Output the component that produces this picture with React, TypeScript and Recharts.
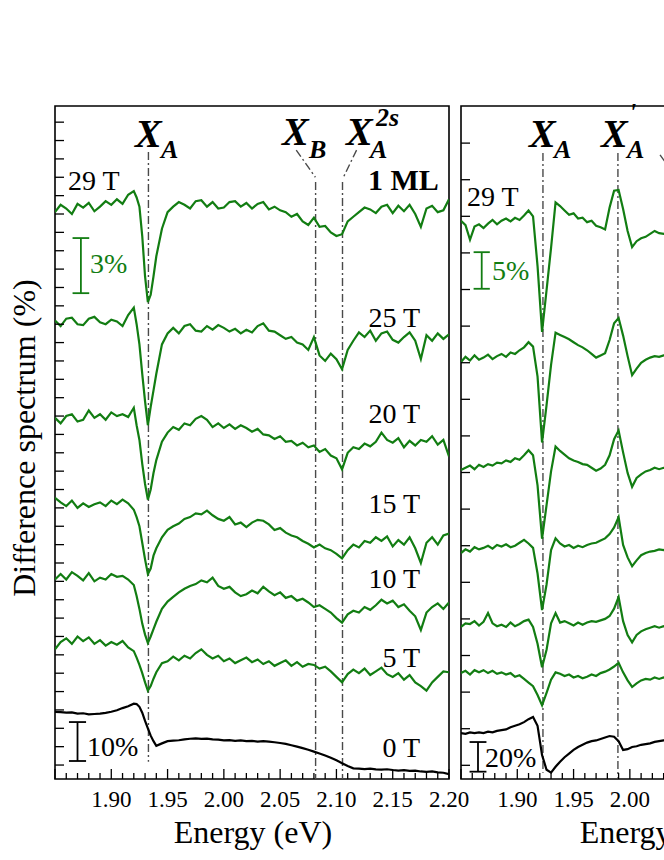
import React from 'react';
import { ComposedChart, Line, XAxis, YAxis, ReferenceLine, ReferenceArea } from 'recharts';

const GREEN = '#127d12';
const DASH = '#4a4a4a';
const SERIF = '"Liberation Serif", "Times New Roman", serif';

// photon energy grids (eV)
const energyLeft = [
  1.85, 1.855, 1.86, 1.865, 1.87, 1.875, 1.88, 1.885, 1.89, 1.895, 1.9, 1.905, 1.91, 1.915, 1.92,
  1.9225, 1.925, 1.9275, 1.93, 1.9325, 1.935, 1.9375, 1.94,
  1.945, 1.95, 1.955, 1.96, 1.965, 1.97, 1.975, 1.98, 1.985, 1.99, 1.995, 2.0, 2.005, 2.01, 2.015, 2.02,
  2.025, 2.03, 2.035, 2.04, 2.045, 2.05, 2.055, 2.06, 2.065, 2.07, 2.075, 2.08, 2.085, 2.09, 2.095, 2.1,
  2.105, 2.11, 2.115, 2.12, 2.125, 2.13, 2.135, 2.14, 2.145, 2.15, 2.155, 2.16, 2.165, 2.17, 2.175, 2.18, 2.185, 2.19, 2.195, 2.2,
];
const energyRight = [
  1.85, 1.854, 1.858, 1.862, 1.866, 1.87, 1.874, 1.878, 1.882, 1.886, 1.89, 1.894, 1.898, 1.902, 1.906, 1.91,
  1.914, 1.918, 1.922, 1.926, 1.93, 1.934, 1.938, 1.942, 1.946,
  1.95, 1.954, 1.958, 1.962, 1.966, 1.97, 1.974, 1.978, 1.982, 1.986, 1.99, 1.994, 1.998, 2.002,
  2.006, 2.01, 2.014, 2.018, 2.022, 2.026, 2.03, 2.034, 2.038, 2.042,
];

const fields = ['29 T', '25 T', '20 T', '15 T', '10 T', '5 T', '0 T'];

// 1 ML: difference spectra (%), relative to each trace's own level; 0 T trace already scaled
const ml29 = [
  -0.1, 0.3, 0.1, -0.2, 0.35, 0.15, 0.4, -0.05, 0.2, 0.5, 0.3, 0.6, 0.35, 0.85, 1.05,
  0.7, 0.2, -1.4, -3.6, -5.0, -4.6, -3.6, -2.5,
  -1.0, -0.1, 0.2, 0.45, 0.3, 0.1, 0.5, 0.55, 0.2, 0.45, 0.1, 0.15, 0.45, 0.5, 0.2, 0.4,
  0.1, 0.35, 0.45, 0.05, 0.2, 0.0, -0.1, -0.35, -0.2, -0.6, -0.8, -0.4, -0.9, -0.85, -1.2, -1.4,
  -1.3, -0.6, -0.35, -0.1, 0.15, 0.05, -0.15, 0.2, 0.3, -0.15, 0.25, -0.05, 0.3, -0.2, -0.9, 0.1, 0.25, -0.1, 0.0, 0.6,
];
const ml25 = [
  0.1, -0.2, 0.2, 0.25, -0.1, -0.15, 0.2, 0.3, 0.0, -0.1, 0.15, 0.05, -0.2, 0.4, 0.8,
  -0.1, -1.2, -2.8, -4.3, -5.6, -4.6, -3.7, -2.8,
  -1.2, -0.6, -0.3, -0.6, -0.2, -0.1, -0.45, -0.5, -0.2, -0.4, -0.15, -0.3, -0.5, -0.35, -0.6, -0.4,
  -0.55, -0.2, -0.05, -0.45, -0.5, -0.7, -0.9, -0.8, -1.1, -1.2, -1.5, -0.8, -1.8, -2.1, -1.7, -2.0,
  -2.55, -1.5, -1.0, -0.55, -0.8, -0.45, -1.0, -0.6, -0.5, -0.95, -1.1, -0.8, -0.55, -1.0, -2.0, -0.7, -1.0, -0.6, -0.9, -0.65,
];
const ml20 = [
  0.0, -0.3, 0.1, 0.2, -0.2, -0.1, 0.4, 0.0, 0.2, -0.1, 0.3, 0.1, 0.2, 0.05, 0.55,
  -0.4, -1.2, -2.5, -3.6, -4.45, -3.9, -3.0, -2.3,
  -1.3, -0.8, -0.5, -0.65, -0.3, -0.4, -0.05, 0.1, -0.1, -0.5, -0.3, -0.55, -0.35, -0.6, -0.4, -0.55,
  -0.75, -0.6, -0.9, -0.95, -1.15, -1.0, -1.3, -1.25, -1.5, -1.35, -1.6, -1.5, -1.85, -1.7, -2.05, -2.2,
  -2.8, -1.9, -1.6, -1.7, -1.4, -1.55, -1.3, -0.8, -1.2, -1.35, -1.1, -1.6, -1.25, -1.5, -1.2, -1.3, -1.0, -1.45, -1.2, -2.1,
];
const ml15 = [
  0.15, -0.1, -0.3, 0.0, -0.4, -0.15, -0.35, -0.2, -0.1, -0.3, 0.0, -0.2, 0.05, -0.15, -0.5,
  -0.9, -1.4, -2.3, -3.2, -4.0, -3.7, -3.0, -2.6,
  -2.0, -1.6, -1.4, -1.25, -1.0, -0.9, -0.7, -0.75, -0.55, -0.8, -1.0, -1.1, -0.9, -1.3, -1.2, -1.45,
  -1.2, -1.05, -1.1, -1.3, -1.6, -1.5, -1.75, -1.9, -2.0, -2.2, -2.35, -2.55, -2.4, -2.6, -2.7, -2.9,
  -3.15, -2.7, -2.4, -2.55, -2.2, -2.3, -2.0, -2.2, -1.95, -2.5, -2.15, -2.4, -2.0, -2.6, -3.4, -2.3, -2.0, -2.4, -1.9, -1.8,
];
const ml10 = [
  -0.1, 0.2, -0.1, 0.3, 0.1, -0.15, 0.25, -0.2, 0.0, -0.1, 0.2, 0.05, 0.1, -0.1, -0.4,
  -1.0, -1.7, -2.5, -3.1, -3.55, -3.2, -2.8, -2.4,
  -1.7, -1.3, -1.05, -0.8, -0.6, -0.45, -0.35, -0.15, -0.25, 0.0, -0.45, -0.6, -0.5, -0.8, -1.0, -0.9,
  -0.7, -0.85, -0.5, -0.75, -0.95, -0.8, -1.1, -1.0, -1.25, -1.15, -1.35, -1.6, -1.5, -1.7, -1.9, -2.2,
  -2.45, -2.0, -1.8, -1.9, -1.6, -1.75, -1.5, -1.2, -1.4, -1.25, -1.6, -1.45, -1.8, -2.1, -2.85, -1.9, -1.6, -1.4, -1.7, -1.35,
];
const ml5 = [
  -0.1, 0.3, 0.5, 0.2, 0.6, 0.35, 0.55, 0.2, 0.4, 0.1, 0.3, 0.15, 0.35, 0.0, -0.2,
  -0.55, -0.95, -1.4, -1.9, -2.35, -2.1, -1.7, -1.35,
  -0.85, -0.75, -0.5, -0.7, -0.45, -0.6, -0.3, -0.1, -0.4, -0.6, -0.45, -0.75, -0.6, -0.85, -0.7, -0.55,
  -0.8, -0.65, -0.9, -0.75, -1.0, -0.85, -0.7, -1.0, -0.8, -1.05, -0.9, -0.95, -1.15, -1.05, -1.3, -1.6,
  -1.9, -1.45, -1.2, -1.4, -1.15, -1.5, -1.3, -1.1, -1.45, -1.6, -1.4, -1.75, -1.5, -1.9, -2.1, -2.35, -1.9, -1.6, -1.3, -1.35,
];
const ml0 = [
  0.0, -0.02, -0.05, -0.03, -0.1, -0.08, -0.14, -0.12, -0.1, -0.06, 0.0, 0.08, 0.2, 0.3, 0.44,
  0.42, 0.27, -0.05, -0.5, -0.9, -1.3, -1.6, -1.85,
  -1.72, -1.6, -1.57, -1.55, -1.5, -1.47, -1.45, -1.48, -1.46, -1.5, -1.52, -1.56, -1.54, -1.58, -1.56, -1.6,
  -1.58, -1.62, -1.6, -1.63, -1.66, -1.7, -1.75, -1.82, -1.9, -1.98, -2.07, -2.17, -2.27, -2.38, -2.5, -2.64,
  -2.8, -2.95, -3.08, -3.1, -3.12, -3.1, -3.14, -3.15, -3.13, -3.17, -3.2, -3.18, -3.22, -3.2, -3.25, -3.27, -3.25, -3.3, -3.32, -3.4,
];
const offsetsLeft = [30.2, 24.1, 18.9, 14.4, 10.2, 6.4, 2.9];

// second sample
const bl29 = [
  0.2, -0.4, -2.4, -0.6, -0.3, -0.8, -0.2, 0.3, -0.3, 0.2, 0.5, 0.1, 0.6, 0.3, 0.9, 1.6,
  0.8, -6.0, -15.0, -9.3, -3.5, 2.7, 2.2, 1.6, 1.0,
  1.2, 0.5, 0.6, 0.0, 0.2, -0.5, -0.7, -1.0, 2.0, 4.3, 4.4, 1.8, -1.2, -3.4,
  -2.6, -2.2, -2.0, -1.6, -1.2, -1.5, -1.6, -1.3, -1.5, -1.4,
];
const bl25 = [
  -0.5, 0.2, -0.3, 0.4, -0.2, 0.1, 0.5, -0.1, 0.3, 0.6, 0.2, 0.8, 0.6, 1.1, 1.5, 2.2,
  1.6, -2.5, -11.5, -6.4, -0.9, 3.5, 3.2, 2.9, 2.6,
  2.2, 1.8, 1.5, 1.1, 0.6, 0.1, 0.4, 0.7, 2.5, 4.8, 5.5, 3.1, 0.3, -2.3,
  -1.4, -0.6, -0.2, 0.1, 0.3, 0.2, 0.4, 0.3, 0.5, 0.4,
];
const bl20 = [
  -0.4, -0.1, 0.2, -0.3, 0.3, 0.0, 0.4, 0.2, 0.6, 0.5, 0.9, 0.7, 1.2, 1.0, 1.6, 2.3,
  1.6, -2.5, -9.8, -5.2, -0.6, 2.8, 2.2, 1.7, 1.2,
  0.9, 0.7, 0.4, 0.3, -0.1, -0.5, -0.2, 0.3, 1.6, 3.8, 5.0, 2.0, -0.8, -2.7,
  -1.5, -1.0, -0.6, -0.4, -0.1, -0.3, -0.1, -0.2, 0.0, -0.2,
];
const bl15 = [
  -0.7, -0.2, -0.5, 0.1, -0.2, 0.0, 0.3, -0.1, 0.4, 0.2, 0.5, 0.1, 0.3, 0.7, 1.1, 0.6,
  0.0, -3.5, -8.5, -5.0, -0.3, 1.3, 0.6, 0.2, 0.4,
  0.0, 0.3, 0.1, 0.4, 0.6, 0.7, 1.0, 1.3, 1.9, 2.8, 4.2, 0.4, -1.3, -2.5,
  -1.7, -1.0, -0.7, -0.5, -0.4, -0.2, -0.3, -0.1, -0.3, -0.2,
];
const bl10 = [
  -0.3, 0.2, 0.1, 0.5, -0.1, 0.4, 1.6, 0.2, -0.2, 0.0, -0.3, 0.3, -0.2, 0.1, 0.5, 0.7,
  -0.3, -2.6, -5.8, -3.4, 0.2, 1.6, 0.3, 0.5, 0.2,
  -0.1, 0.3, 0.0, 0.3, 0.5, 0.4, 0.6, 0.8, 1.2, 2.2, 3.8, 0.5, -1.4, -2.4,
  -1.4, -0.9, -0.6, -0.4, -0.2, -0.4, -0.2, -0.3, -0.1, -0.3,
];
const bl5 = [
  0.0, 0.3, -0.2, 0.4, 0.1, 0.4, 0.0, 0.3, -0.1, 0.1, -0.2, 0.0, -0.5, -0.3, -0.8, -1.3,
  -1.8, -3.0, -4.4, -2.7, -0.9, 0.1, -0.1, -0.4, -0.2,
  -0.6, -0.4, -0.7, -0.5, -0.2, -0.4, 0.0, 0.2, 0.5, 0.9, 1.4, 0.1, -1.0, -1.9,
  -1.4, -1.0, -0.8, -0.9, -0.6, -0.8, -0.6, -0.7, -0.5, -0.7,
];
const bl0 = [
  0.0, -0.1, 0.1, 0.0, 0.1, 0.0, 0.2, 0.1, 0.3, 0.4, 0.5, 0.8, 1.0, 1.2, 1.5, 1.9,
  2.2, 1.0, -3.0, -5.0, -5.4, -4.6, -3.9, -3.3, -2.8,
  -2.3, -1.9, -1.6, -1.3, -1.1, -1.0, -0.8, -0.6, -0.4, -0.5, -1.1, -2.3, -2.2, -1.9,
  -1.8, -1.6, -1.5, -1.4, -1.2, -1.1, -1.0, -0.9, -0.8, -0.7,
];
const offsetsRight = [74.2, 55.6, 40.75, 29.7, 19.2, 12.6, 4.4];

const energyTicks = [
  1.85, 1.86, 1.87, 1.88, 1.89, 1.9, 1.91, 1.92, 1.93, 1.94, 1.95, 1.96, 1.97, 1.98, 1.99, 2.0, 2.01, 2.02,
  2.03, 2.04, 2.05, 2.06, 2.07, 2.08, 2.09, 2.1, 2.11, 2.12, 2.13, 2.14, 2.15, 2.16, 2.17, 2.18, 2.19, 2.2,
];
const leftTicks = [0, 1, 2, 3, 4, 5, 6, 7, 8, 9, 10, 11, 12, 13, 14, 15, 16, 17, 18, 19, 20, 21, 22, 23, 24, 25, 26, 27, 28, 29, 30, 31, 32, 33, 34, 35];
const rightTicks = [0, 5, 10, 15, 20, 25, 30, 35, 40, 45, 50, 55, 60, 65, 70, 75, 80, 85];

const traceColors = [GREEN, GREEN, GREEN, GREEN, GREEN, GREEN, '#000'];

const buildRows = (energy: number[], curves: number[][], offsets: number[]) =>
  energy.map((e, i) => {
    const row: Record<string, number> = { e };
    curves.forEach((c, k) => {
      row['f' + k] = +(c[i] + offsets[k]).toFixed(3);
    });
    return row;
  });

const rowsLeft = buildRows(energyLeft, [ml29, ml25, ml20, ml15, ml10, ml5, ml0], offsetsLeft);
const rowsRight = buildRows(energyRight, [bl29, bl25, bl20, bl15, bl10, bl5, bl0], offsetsRight);

type Seg = { p: number[][]; c: string; dash?: boolean };

const scaleBar = (e: number, lo: number, len: number, half: number, c: string): Seg[] => [
  { p: [[e, lo], [e, lo + len]], c },
  { p: [[e - half, lo], [e + half, lo]], c },
  { p: [[e - half, lo + len], [e + half, lo + len]], c },
];

const segsLeft: Seg[] = [
  { p: [[1.933, 33.37], [1.933, 0.18]], c: DASH, dash: true },
  { p: [[2.0643, 33.48], [2.0813, 32.0]], c: DASH, dash: true },
  { p: [[2.0815, 31.74], [2.0815, -0.76]], c: DASH, dash: true },
  { p: [[2.1179, 33.48], [2.1062, 32.0]], c: DASH, dash: true },
  { p: [[2.1054, 31.74], [2.1054, -0.76]], c: DASH, dash: true },
  ...scaleBar(1.873, 25.69, 3, 0.0074, GREEN),
  ...scaleBar(1.87, 0.22, 2.12, 0.0076, '#000'),
];

const segsRight: Seg[] = [
  { p: [[1.9228, 83.65], [1.9228, -1.0]], c: DASH, dash: true },
  { p: [[1.9894, 83.65], [1.9894, -1.7]], c: DASH, dash: true },
  { p: [[2.0268, 83.4], [2.045, 79.5]], c: DASH, dash: true },
  ...scaleBar(1.8684, 65.1, 5, 0.0072, GREEN),
  ...scaleBar(1.8651, -0.87, 4.05, 0.0075, '#000'),
];

function EnergyTick(props: any) {
  const { x, y, payload } = props;
  const v = payload.value as number;
  const major = Math.round(v * 100) % 5 === 0;
  return (
    <g>
      <line x1={x} x2={x} y1={y} y2={y - (major ? 10 : 6)} stroke="#000" strokeWidth={1.3} />
      {major && v > 1.86 && (
        <text x={x} y={y + 28} textAnchor="middle" fontFamily={SERIF} fontSize={23} fill="#000">
          {v.toFixed(2)}
        </text>
      )}
    </g>
  );
}

function SideTick(props: any) {
  const { x, y } = props;
  return <line x1={x} x2={x + 9} y1={y} y2={y} stroke="#000" strokeWidth={1.3} />;
}

interface PanelProps {
  rows: Record<string, number>[];
  yDomain: [number, number];
  yTicks: number[];
  segs: Seg[];
  left: number;
  width: number;
  margin: { top: number; right: number; bottom: number; left: number };
}

function Panel({ rows, yDomain, yTicks, segs, left, width, margin }: PanelProps) {
  return (
    <div style={{ position: 'absolute', left, top: 0 }}>
      <ComposedChart width={width} height={860} data={rows} margin={margin}>
        <XAxis
          dataKey="e"
          type="number"
          domain={[1.85, 2.2]}
          allowDataOverflow
          ticks={energyTicks}
          interval={0}
          height={1}
          tickSize={0}
          tickMargin={0}
          axisLine={false}
          tickLine={false}
          tick={<EnergyTick />}
        />
        <YAxis
          type="number"
          domain={yDomain}
          allowDataOverflow
          ticks={yTicks}
          interval={0}
          width={1}
          tickSize={0}
          tickMargin={0}
          axisLine={false}
          tickLine={false}
          tick={<SideTick />}
        />
        <ReferenceArea
          x1={1.85}
          x2={2.2}
          y1={yDomain[0]}
          y2={yDomain[1]}
          fill="none"
          stroke="#000"
          strokeWidth={1.6}
          ifOverflow="visible"
        />
        {segs.map((s, i) => (
          <ReferenceLine
            key={'s' + i}
            segment={[{ x: s.p[0][0], y: s.p[0][1] }, { x: s.p[1][0], y: s.p[1][1] }]}
            stroke={s.c}
            strokeWidth={s.dash ? 1.4 : 1.8}
            strokeDasharray={s.dash ? '8 3 2 3' : undefined}
            ifOverflow="visible"
          />
        ))}
        {fields.map((f, k) => (
          <Line
            key={f}
            dataKey={'f' + k}
            name={f}
            type="linear"
            stroke={traceColors[k]}
            strokeWidth={2.2}
            dot={false}
            isAnimationActive={false}
          />
        ))}
      </ComposedChart>
    </div>
  );
}

const lbl = { fontFamily: SERIF, fill: '#000' };
const big = { fontFamily: SERIF, fontWeight: 700, fontStyle: 'italic', fill: '#000' } as const;

function Notes() {
  return (
    <svg width={664} height={860} style={{ position: 'absolute', left: 0, top: 0, pointerEvents: 'none' }}>
      <text transform="translate(35,438) rotate(-90)" textAnchor="middle" fontSize={32} {...lbl}>
        Difference spectrum (%)
      </text>
      <text x={253} y={843} textAnchor="middle" fontSize={32} {...lbl}>Energy (eV)</text>
      <text x={659} y={843} textAnchor="middle" fontSize={32} {...lbl}>Energy (eV)</text>

      {/* left panel */}
      <text x={135} y={147} fontSize={40} {...big}>X</text>
      <text x={161} y={158} fontSize={26} {...big}>A</text>
      <text x={282} y={145} fontSize={40} {...big}>X</text>
      <text x={309} y={158} fontSize={26} {...big}>B</text>
      <text x={346} y={145} fontSize={40} {...big}>X</text>
      <text x={370} y={158} fontSize={26} {...big}>A</text>
      <text x={376} y={126} fontSize={26} {...big}>2s</text>
      <text x={68} y={190} fontSize={28} {...lbl}>{fields[0]}</text>
      <text x={368} y={190} fontSize={30} fontWeight={700} {...lbl}>1 ML</text>
      <text x={420} y={327} textAnchor="end" fontSize={28} {...lbl}>{fields[1]}</text>
      <text x={420} y={423} textAnchor="end" fontSize={28} {...lbl}>{fields[2]}</text>
      <text x={420} y={513} textAnchor="end" fontSize={28} {...lbl}>{fields[3]}</text>
      <text x={420} y={588} textAnchor="end" fontSize={28} {...lbl}>{fields[4]}</text>
      <text x={420} y={667} textAnchor="end" fontSize={28} {...lbl}>{fields[5]}</text>
      <text x={420} y={757} textAnchor="end" fontSize={28} {...lbl}>{fields[6]}</text>
      <text x={90} y={273} fontSize={28} fontFamily={SERIF} fill={GREEN}>3%</text>
      <text x={87} y={756} fontSize={28} {...lbl}>10%</text>

      {/* right panel */}
      <text x={529} y={147} fontSize={40} {...big}>X</text>
      <text x={554} y={158} fontSize={26} {...big}>A</text>
      <text x={601} y={147} fontSize={40} {...big}>X</text>
      <text x={627} y={158} fontSize={26} {...big}>A</text>
      <text x={629} y={121} fontSize={26} {...big}>'</text>
      <text x={467} y={206} fontSize={28} {...lbl}>{fields[0]}</text>
      <text x={492} y={280} fontSize={28} fontFamily={SERIF} fill={GREEN}>5%</text>
      <text x={485} y={767} fontSize={28} {...lbl}>20%</text>
    </svg>
  );
}

export default function App() {
  return (
    <div style={{ position: 'absolute', left: 0, top: 0, width: 664, height: 860, overflow: 'hidden', background: '#fff' }}>
      <Panel
        rows={rowsLeft}
        yDomain={[-0.76, 35.88]}
        yTicks={leftTicks}
        segs={segsLeft}
        left={0}
        width={490}
        margin={{ top: 106, right: 41, bottom: 80, left: 54 }}
      />
      <Panel
        rows={rowsRight}
        yDomain={[-1.87, 90.07]}
        yTicks={rightTicks}
        segs={segsRight}
        left={452}
        width={420}
        margin={{ top: 106, right: 17, bottom: 80, left: 8 }}
      />
      <Notes />
    </div>
  );
}
